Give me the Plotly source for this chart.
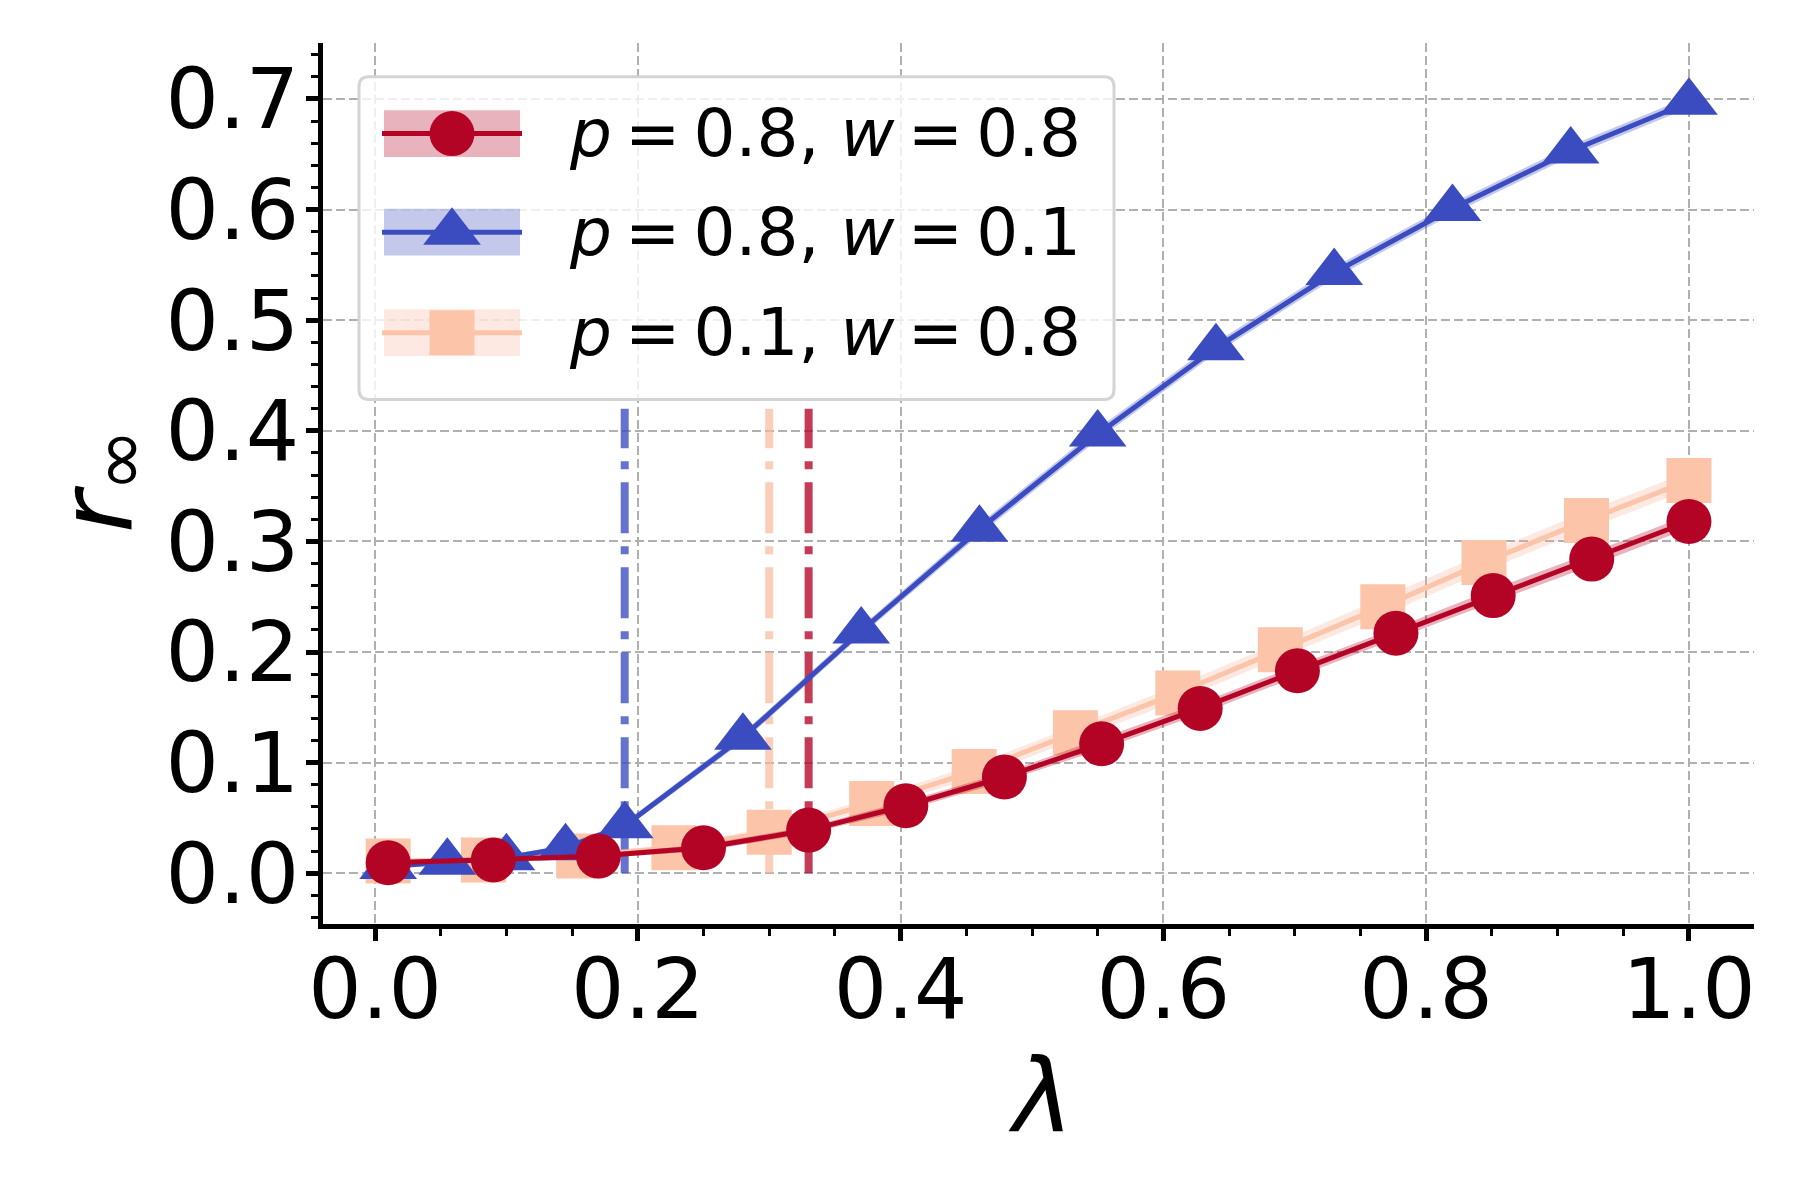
import plotly.graph_objects as go

# ---------------- data ----------------
red_x = [0.01, 0.09, 0.17, 0.25, 0.33, 0.404, 0.479, 0.553, 0.628, 0.702, 0.777, 0.851, 0.926, 1.0]
red_y = [0.0095, 0.012, 0.0155, 0.023, 0.039, 0.061, 0.087, 0.117, 0.149, 0.183, 0.217, 0.251, 0.284, 0.318]
red_err = [0.002, 0.002, 0.002, 0.003, 0.003, 0.004, 0.004, 0.005, 0.005, 0.005, 0.005, 0.006, 0.006, 0.006]

blue_x = [0.01, 0.055, 0.10, 0.145, 0.19, 0.28, 0.37, 0.46, 0.55, 0.64, 0.73, 0.82, 0.91, 1.00]
blue_y = [0.006, 0.010, 0.014, 0.023, 0.043, 0.123, 0.219, 0.311, 0.397, 0.475, 0.543, 0.601, 0.653, 0.697]
blue_err = [0.002, 0.002, 0.002, 0.003, 0.003, 0.004, 0.004, 0.005, 0.005, 0.005, 0.005, 0.005, 0.005, 0.005]

orange_x = [0.01, 0.0825, 0.155, 0.2275, 0.30, 0.378, 0.456, 0.533, 0.611, 0.689, 0.767, 0.844, 0.922, 1.0]
orange_y = [0.011, 0.012, 0.0155, 0.023, 0.037, 0.063, 0.092, 0.127, 0.163, 0.202, 0.241, 0.281, 0.319, 0.355]
orange_err = [0.002, 0.002, 0.003, 0.003, 0.004, 0.005, 0.006, 0.006, 0.007, 0.007, 0.008, 0.008, 0.008, 0.008]

TS = "\u2009"
series_labels = ["<i>p</i>" + TS + "=" + TS + "0.8, <i>w</i>" + TS + "=" + TS + "0.8",
                 "<i>p</i>" + TS + "=" + TS + "0.8, <i>w</i>" + TS + "=" + TS + "0.1",
                 "<i>p</i>" + TS + "=" + TS + "0.1, <i>w</i>" + TS + "=" + TS + "0.8"]
thresholds = [0.33, 0.19, 0.30]   # red, blue, orange critical lambda
vline_top = 0.42

x_ticks = [0.0, 0.2, 0.4, 0.6, 0.8, 1.0]
y_ticks = [0.0, 0.1, 0.2, 0.3, 0.4, 0.5, 0.6, 0.7]

# ---------------- style ----------------
RED = "#b40426"
BLUE = "#3b4cc0"
ORANGE = "#fcc4a8"
RED_BAND = "rgba(180,4,38,0.30)"
BLUE_BAND = "rgba(59,76,192,0.30)"
ORANGE_BAND = "rgba(247,168,137,0.25)"
RED_V = "rgba(180,4,38,0.78)"
BLUE_V = "rgba(59,76,192,0.78)"
ORANGE_V = "rgba(250,185,155,0.70)"

W, H = 1800, 1200
L, R, T, B = 315, 54, 35, 284
XR = [-0.0396, 1.0495]
YR = [-0.0459, 0.7506]
FONT = "DejaVu Sans"

# pixel calibration used to place legend / labels (relative to the axes)
L0, R0, T0, B0 = 322, 47, 44, 271


def px2px_paper(px):
    return (px - L0) / (W - L0 - R0)


def py2py_paper(py):
    return (H - B0 - py) / (H - T0 - B0)


def px2x(px):
    return XR[0] + px2px_paper(px) * (XR[1] - XR[0])


def px2y(py):
    return YR[0] + py2py_paper(py) * (YR[1] - YR[0])


fig = go.Figure()


def add_series(x, y, err, color, band, symbol, size):
    lo = [a - e for a, e in zip(y, err)]
    hi = [a + e for a, e in zip(y, err)]
    fig.add_trace(go.Scatter(x=x, y=lo, mode="lines", line=dict(width=0, color=band),
                             showlegend=False, hoverinfo="skip"))
    fig.add_trace(go.Scatter(x=x, y=hi, mode="lines", line=dict(width=0, color=band),
                             fill="tonexty", fillcolor=band, showlegend=False, hoverinfo="skip"))
    fig.add_trace(go.Scatter(x=x, y=y, mode="lines+markers",
                             line=dict(color=color, width=5),
                             marker=dict(symbol=symbol, size=size, color=color, line=dict(width=0)),
                             showlegend=False))


add_series(orange_x, orange_y, orange_err, ORANGE, ORANGE_BAND, "square", 45)
add_series(blue_x, blue_y, blue_err, BLUE, BLUE_BAND, "triangle-up", 50)
add_series(red_x, red_y, red_err, RED, RED_BAND, "circle", 45)

shapes = []
# threshold dash-dot lines
for thr, col in zip(thresholds, [RED_V, BLUE_V, ORANGE_V]):
    shapes.append(dict(type="line", xref="x", yref="y", x0=thr, x1=thr, y0=0, y1=vline_top,
                       line=dict(color=col, width=8, dash="51px,13px,8px,13px"), layer="between"))

# legend box (rounded)
bx0, by0, bx1, by1, rr = 358, 78, 1113, 402, 10
pts = [
    ("M", bx0 + rr, by0), ("L", bx1 - rr, by0), ("Q", bx1, by0, bx1, by0 + rr),
    ("L", bx1, by1 - rr), ("Q", bx1, by1, bx1 - rr, by1), ("L", bx0 + rr, by1),
    ("Q", bx0, by1, bx0, by1 - rr), ("L", bx0, by0 + rr), ("Q", bx0, by0, bx0 + rr, by0),
]
path = ""
for p in pts:
    cmd = p[0]
    coords = p[1:]
    seg = []
    for i in range(0, len(coords), 2):
        seg.append("%.6f,%.6f" % (px2x(coords[i]), px2y(coords[i + 1])))
    path += cmd + " ".join(seg) + " "
path += "Z"
shapes.append(dict(type="path", xref="x", yref="y", path=path,
                   fillcolor="rgba(255,255,255,0.8)", line=dict(color="#d4d4d4", width=3),
                   layer="between"))

rows = [135, 234, 335]
patch_x0, patch_x1, patch_h = 383, 519, 47
mk_x = 451
text_x = 566
leg_colors = [RED, BLUE, ORANGE]
leg_bands = [RED_BAND, BLUE_BAND, ORANGE_BAND]
leg_symbols = ["circle", "triangle-up", "square"]
leg_sizes = [45, 50, 45]
annotations = []
for ry, col, band, sym, sz, lab in zip(rows, leg_colors, leg_bands, leg_symbols, leg_sizes, series_labels):
    shapes.append(dict(type="rect", xref="x", yref="y",
                       x0=px2x(patch_x0), x1=px2x(patch_x1),
                       y0=px2y(ry - patch_h / 2), y1=px2y(ry + patch_h / 2),
                       fillcolor=band, line=dict(width=0), layer="between"))
    fig.add_trace(go.Scatter(x=[px2x(patch_x0 - 2), px2x(patch_x1 + 2)], y=[px2y(ry), px2y(ry)],
                             mode="lines", line=dict(color=col, width=5),
                             showlegend=False, hoverinfo="skip", cliponaxis=False))
    fig.add_trace(go.Scatter(x=[px2x(mk_x)], y=[px2y(ry)], mode="markers",
                             marker=dict(symbol=sym, size=sz, color=col, line=dict(width=0)),
                             showlegend=False, hoverinfo="skip", cliponaxis=False))
    annotations.append(dict(x=px2x(text_x), y=px2y(ry), xref="x", yref="y", text=lab,
                            showarrow=False, xanchor="left", yanchor="middle",
                            font=dict(family=FONT, size=66, color="black")))

# axis labels (paper coordinates, outside the plot area)
annotations.append(dict(x=px2px_paper(1039), y=py2py_paper(1101), xref="paper", yref="paper",
                        text="<i>λ</i>", showarrow=False, xanchor="center", yanchor="middle",
                        font=dict(family=FONT, size=102, color="black")))
annotations.append(dict(x=px2px_paper(96), y=py2py_paper(512), xref="paper", yref="paper",
                        text="<i>r</i>", textangle=-90,
                        showarrow=False, xanchor="center", yanchor="middle",
                        font=dict(family=FONT, size=102, color="black")))
annotations.append(dict(x=px2px_paper(117), y=py2py_paper(464), xref="paper", yref="paper",
                        text="∞", textangle=-90,
                        showarrow=False, xanchor="center", yanchor="middle",
                        font=dict(family=FONT, size=76, color="black")))

axis_common = dict(
    showline=True, linecolor="black", linewidth=5, mirror=False,
    ticks="outside", ticklen=12, tickwidth=5, tickcolor="black",
    showgrid=True, gridcolor="#b0b0b0", gridwidth=2.2, griddash="9px,4px",
    zeroline=False, tickfont=dict(family=FONT, size=84, color="black"),
    tickformat=".1f",
)

fig.update_layout(
    width=W, height=H,
    margin=dict(l=L, r=R, t=T, b=B, pad=0),
    paper_bgcolor="white", plot_bgcolor="white",
    shapes=shapes, annotations=annotations, showlegend=False,
    xaxis=dict(range=XR, tickvals=x_ticks, ticklabelstandoff=-24,
               minor=dict(ticks="outside", dtick=0.05, tick0=0, ticklen=7, tickwidth=3,
                          tickcolor="black", showgrid=False),
               **axis_common),
    yaxis=dict(range=YR, tickvals=y_ticks, ticklabelstandoff=-10,
               minor=dict(ticks="outside", dtick=0.02, tick0=0, ticklen=7, tickwidth=3,
                          tickcolor="black", showgrid=False),
               **axis_common),
)

fig.write_html("out.html")
